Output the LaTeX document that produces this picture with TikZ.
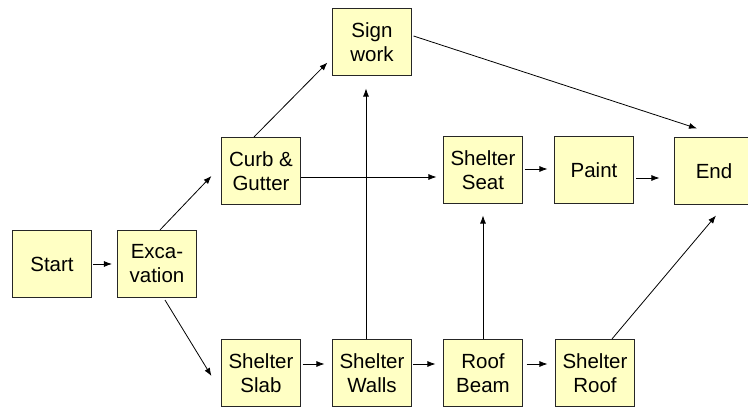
\documentclass[tikz,border=0pt]{standalone}
\usepackage{fontspec}
\setmainfont{Liberation Sans}
\usetikzlibrary{arrows.meta}
\definecolor{taskfill}{RGB}{255,255,196}
\tikzset{
  task/.style={draw=black!85, line width=1.1pt, fill=taskfill,
    minimum width=79pt, minimum height=67pt, inner sep=0pt, align=center,
    font=\fontsize{20.5pt}{24pt}\selectfont},
  arr/.style={-{Latex[length=8pt,width=6pt]}, line width=0.8pt, black}
}
\begin{document}
\begin{tikzpicture}[x=1pt,y=1pt]
\useasboundingbox (0,0) rectangle (748,407);
\clip (0,0) rectangle (748,407);
\fill[white] (0,0) rectangle (748,407);

% activities
\node[task] (start) at (52,143)  {Start};
\node[task] (exca)  at (157,143) {Exca-\\vation};
\node[task] (curb)  at (261,236) {Curb \&\\Gutter};
\node[task] (sign)  at (372,365) {Sign\\work};
\node[task] (seat)  at (483,237) {Shelter\\Seat};
\node[task] (paint) at (594,237) {Paint};
\node[task] (end)   at (714,236) {End};
\node[task] (slab)  at (261,34)  {Shelter\\Slab};
\node[task] (walls) at (372,34)  {Shelter\\Walls};
\node[task] (beam)  at (483,34)  {Roof\\Beam};
\node[task] (roof)  at (595,34)  {Shelter\\Roof};

% helper points for offset connectors
\coordinate (cg) at ([yshift=-6pt]curb.east);
\coordinate (ws) at ([xshift=-6pt]walls.north);
\coordinate (pe) at ([yshift=-8pt]paint.east);
\coordinate (sw) at ([yshift=9pt]slab.east);
\coordinate (wb) at ([yshift=9pt]walls.east);
\coordinate (br) at ([yshift=9pt]beam.east);

% precedence arrows
\draw[arr, shorten <=1pt, shorten >=5pt] (start.east) -- (exca.west);
\draw[arr] ([xshift=3pt]exca.north) -- ([shift={(-9.5pt,-5pt)}]curb.west);
\draw[arr] ([shift={(8pt,-2pt)}]exca.south) -- ([shift={(-9.5pt,-3pt)}]slab.west);
\draw[arr] ([xshift=-7pt]curb.north) -- ([shift={(-4.5pt,13.5pt)}]sign.south west);
\draw[arr, shorten >=6.5pt] (cg) -- (cg -| seat.west);
\draw[arr, shorten >=12.5pt] (ws) -- (ws |- sign.south);
\draw[arr, shorten >=11.5pt] (beam.north) -- (seat.south);
\draw[arr, shorten <=1.5pt, shorten >=6.5pt] ([yshift=1pt]seat.east) -- ([yshift=1pt]paint.west);
\draw[arr, shorten <=2pt, shorten >=14.5pt] (pe) -- (pe -| end.west);
\draw[arr] ([shift={(1.5pt,6pt)}]sign.east) -- ([shift={(-17pt,8.5pt)}]end.north);
\draw[arr] ([xshift=17pt]roof.north) -- ([shift={(2pt,-10.5pt)}]end.south);
\draw[arr, shorten <=1.5pt, shorten >=7.5pt] (sw) -- (sw -| walls.west);
\draw[arr, shorten <=1pt, shorten >=7.5pt] (wb) -- (wb -| beam.west);
\draw[arr, shorten <=3.5pt, shorten >=7.5pt] (br) -- (br -| roof.west);
\end{tikzpicture}
\end{document}
